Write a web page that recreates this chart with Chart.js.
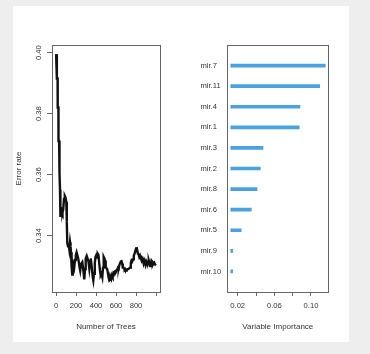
<!DOCTYPE html>
<html>
<head>
<meta charset="utf-8">
<script src="https://cdn.jsdelivr.net/npm/chart.js@4"></script>
<style>
  body { margin: 0; background: #eeeeee; }
  #panel { position: absolute; left: 13px; top: 6px; width: 336px; height: 336px; background: #fff; }
  canvas { position: absolute; top: 0; }
  #errChart { left: 0; }
  #impChart { left: 185px; }
</style>
</head>
<body>
<div id="panel"></div>
<canvas id="errChart" width="185" height="354"></canvas>
<canvas id="impChart" width="185" height="354"></canvas>
<script>
// error rate vs number of trees
var trees = [1, 8, 9, 16, 17, 24, 25, 31, 32, 38, 40, 44, 50, 55, 60, 65, 72, 80, 88, 95, 103, 108, 113, 120, 127, 133, 140, 145, 150, 156,
  162, 168, 174, 182, 190, 198, 206, 214, 222, 230, 236, 242, 250, 257, 263, 270, 277, 283, 290, 297, 303, 310, 318, 325, 333, 340,
  347, 355, 362, 368, 373, 380, 388, 395, 402, 410, 418, 425, 432, 440, 447, 455, 463, 470, 477, 484, 490, 497, 505, 512, 520, 527,
  533, 540, 547, 553, 560, 567, 575, 583, 590, 597, 605, 612, 620, 627, 635, 642, 648, 655, 662, 668, 675, 680, 687, 693, 700, 707,
  715, 722, 730, 740, 748, 755, 762, 770, 778, 785, 792, 800, 807, 813, 820, 827, 833, 840, 848, 855, 862, 868, 875, 882, 888, 895,
  902, 908, 915, 922, 928, 935, 942, 948, 955, 962, 968, 975, 982, 990, 1000];
var errRate = [0.3995, 0.3995, 0.3915, 0.3915, 0.382, 0.382, 0.371, 0.371, 0.3605, 0.3605, 0.355, 0.3465, 0.3465, 0.3485, 0.348, 0.3475,
  0.3485, 0.352, 0.353, 0.3525, 0.351, 0.3445, 0.3375, 0.3365, 0.337, 0.3355, 0.3378, 0.3365, 0.3345, 0.330,
  0.3272, 0.329, 0.3305, 0.3295, 0.332, 0.3335, 0.3345, 0.3335, 0.3325, 0.331, 0.3295, 0.3285, 0.3305, 0.331, 0.3313, 0.3295, 0.3275, 0.3256, 0.329, 0.3325, 0.333, 0.332, 0.3322, 0.3315, 0.3293, 0.3315,
  0.3325, 0.3305, 0.328, 0.3262, 0.3253, 0.3275, 0.331, 0.333, 0.3335, 0.3328, 0.334, 0.3336, 0.331, 0.3285, 0.327, 0.3275, 0.3264, 0.3295, 0.333, 0.3325, 0.3318, 0.330, 0.3292, 0.329, 0.3275, 0.3262,
  0.3253, 0.3255, 0.3263, 0.3258, 0.327, 0.3265, 0.3278, 0.3275, 0.3282, 0.3281, 0.3287, 0.3288, 0.3295, 0.3293, 0.3305, 0.331, 0.3315, 0.3316, 0.3308, 0.3295, 0.3295, 0.3292, 0.3288, 0.329, 0.3285, 0.3286,
  0.329, 0.329, 0.3292, 0.3295, 0.331, 0.3318, 0.3315, 0.3322, 0.3335, 0.334, 0.3348, 0.3358, 0.3362, 0.335, 0.334, 0.3338, 0.333, 0.3335, 0.3328, 0.332, 0.3325, 0.332, 0.331, 0.332, 0.3315, 0.3305,
  0.3315, 0.331, 0.3305, 0.3315, 0.3318, 0.331, 0.330, 0.3305, 0.3318, 0.3315, 0.3305, 0.331, 0.3312, 0.3305, 0.3302];
var xTicksTrees = [0, 200, 400, 600, 800];

// variable importance, top to bottom
var varNames = ['mir.7', 'mir.11', 'mir.4', 'mir.1', 'mir.3', 'mir.2', 'mir.8', 'mir.6', 'mir.5', 'mir.9', 'mir.10'];
var importance = [0.1156, 0.1095, 0.088, 0.0872, 0.0476, 0.0447, 0.0411, 0.0349, 0.0239, 0.0127, 0.0135];
var impStart = 0.0124;
var impTickLabels = ['0.02', '0.06', '0.10'];

var FONT = '"Liberation Sans", Arial, sans-serif';
var tickFont = { family: FONT, size: 7.6 };
var titleFont = { family: FONT, size: 8 };

// R style box around the plot region
var boxPlugin = {
  id: 'box',
  afterDraw: function (chart) {
    var a = chart.chartArea, c = chart.ctx;
    c.save();
    c.strokeStyle = '#666';
    c.lineWidth = 1;
    c.strokeRect(Math.round(a.left) + 0.5, Math.round(a.top) + 0.5, Math.round(a.right - a.left), Math.round(a.bottom - a.top));
    c.restore();
  }
};

new Chart(document.getElementById('errChart'), {
  type: 'line',
  data: {
    datasets: [{
      data: trees.map(function (t, i) { return { x: t, y: errRate[i] }; }),
      borderColor: '#111',
      borderWidth: 2.4,
      pointRadius: 0,
      tension: 0
    }]
  },
  options: {
    responsive: false,
    animation: false,
    layout: { padding: { left: 0, right: 25, top: 45, bottom: 0 } },
    plugins: { legend: { display: false }, tooltip: { enabled: false } },
    scales: {
      x: {
        type: 'linear', min: -40, max: 1040,
        grid: { drawOnChartArea: false, tickLength: 4, color: '#666' },
        border: { display: false },
        ticks: {
          stepSize: 200, includeBounds: false, autoSkip: false, maxRotation: 0, padding: 5,
          color: '#333', font: tickFont,
          callback: function (v) { return xTicksTrees.indexOf(v) >= 0 ? String(v) : ''; }
        },
        title: { display: true, text: 'Number of Trees', color: '#333', font: titleFont, padding: { top: 0, bottom: 22.5 } },
        afterFit: function (s) { s.height = 62; }
      },
      y: {
        type: 'linear', min: 0.3215, max: 0.4025,
        grid: { drawOnChartArea: false, tickLength: 5, color: '#666' },
        border: { display: false },
        ticks: {
          stepSize: 0.02, includeBounds: false, autoSkip: false, minRotation: 90, maxRotation: 90,
          crossAlign: 'center', padding: 1, color: '#333', font: tickFont,
          callback: function (v) { return v.toFixed(2); }
        },
        title: { display: true, text: 'Error rate', color: '#333', font: titleFont, padding: { top: 13.7, bottom: 0 } },
        afterFit: function (s) { s.width = 52; }
      }
    }
  },
  plugins: [boxPlugin]
});

new Chart(document.getElementById('impChart'), {
  type: 'bar',
  data: {
    datasets: [{
      data: varNames.map(function (n, i) { return { y: i + 1, x: [impStart, importance[i]] }; }),
      backgroundColor: '#4aa3e0',
      barThickness: 3,
      minBarLength: 2,
      borderSkipped: false
    }]
  },
  options: {
    indexAxis: 'y',
    responsive: false,
    animation: false,
    layout: { padding: { left: 15.5, right: 41.7, top: 45, bottom: 0 } },
    plugins: { legend: { display: false }, tooltip: { enabled: false } },
    scales: {
      x: {
        type: 'linear', min: 0.00865, max: 0.1189,
        grid: { drawOnChartArea: false, tickLength: 4, color: '#666' },
        border: { display: false },
        ticks: {
          stepSize: 0.02, includeBounds: false, autoSkip: false, maxRotation: 0, padding: 5,
          color: '#333', font: tickFont,
          callback: function (v) { var s = v.toFixed(2); return impTickLabels.indexOf(s) >= 0 ? s : ''; }
        },
        title: { display: true, text: 'Variable Importance', color: '#333', font: titleFont, padding: { top: 0, bottom: 22.5 } },
        afterFit: function (s) { s.height = 62; }
      },
      y: {
        type: 'linear', min: 0, max: 12, reverse: true, offset: false,
        grid: { display: false, drawTicks: false, offset: false },
        border: { display: false },
        ticks: {
          stepSize: 1, autoSkip: false, crossAlign: 'far', color: '#333', font: tickFont,
          callback: function (v) { return varNames[v - 1] || ''; }
        },
        afterFit: function (s) { s.width = 26.8; }
      }
    }
  },
  plugins: [boxPlugin]
});
</script>
</body>
</html>
